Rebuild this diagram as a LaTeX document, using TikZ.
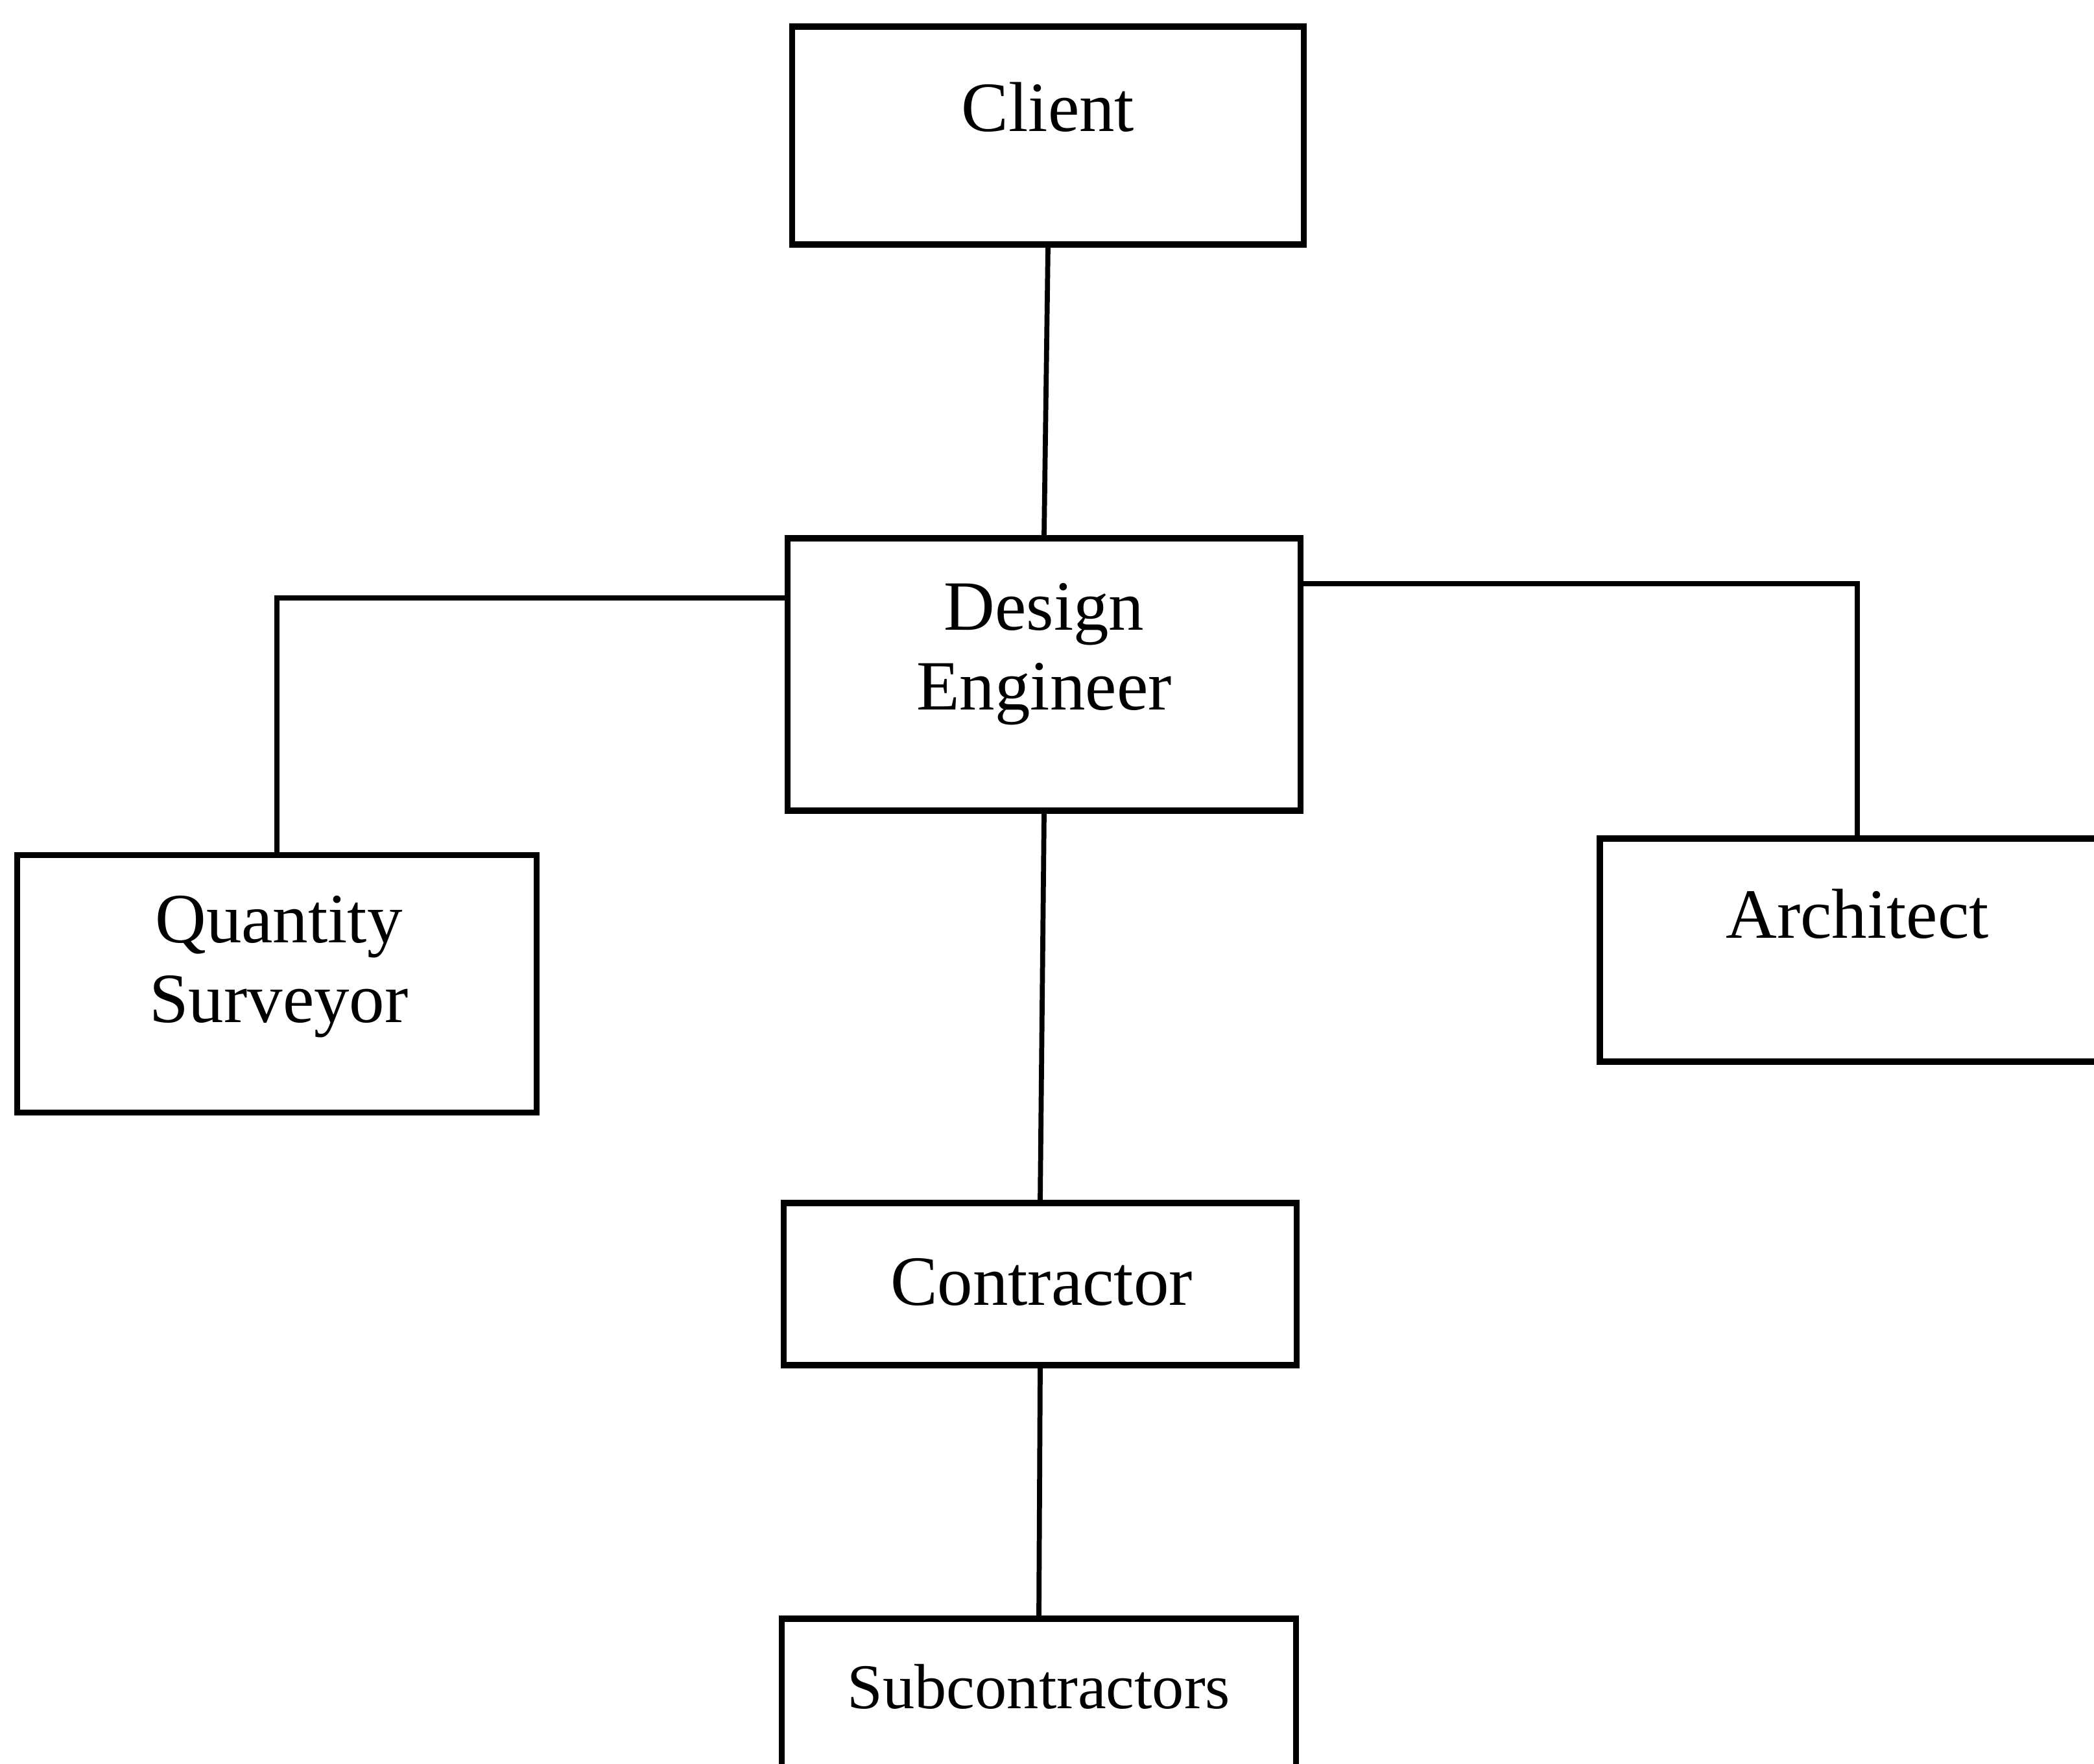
\documentclass[tikz,border=0pt]{standalone}
\usepackage{fontspec}
\setmainfont{Liberation Serif}
\usetikzlibrary{positioning}

\tikzset{
	box/.style={draw, rectangle, line width=2.8pt, inner sep=0pt},
	txt/.style={align=center, font=\fontsize{31}{35}\selectfont},
	link/.style={line width=2.2pt}
}

\begin{document}
\begin{tikzpicture}
	% Frame of the page:
	\useasboundingbox (0, 0) rectangle (32.29, -27.20);
	% Boxes:
	\node[box, minimum width=7.89cm, minimum height=3.36cm] (client) at (16.16, -2.09){};
	\node[box, minimum width=7.91cm, minimum height=4.20cm] (engineer) at (16.10, -10.40){};
	\node[box, minimum width=8.01cm, minimum height=3.97cm] (surveyor) at (4.27, -15.17){};
	\node[box, minimum width=7.94cm, minimum height=3.44cm] (architect) at (28.64, -14.65){};
	\node[box, minimum width=7.91cm, minimum height=2.50cm] (contractor) at (16.04, -19.80){};
	\node[box, minimum width=7.93cm, minimum height=3.36cm] (subs) at (16.02, -26.64){};
	% Texts:
	\node[txt] (clientTxt) at (16.16, -1.65){Client};
	\node[txt] (engineerTxt) at (16.10, -10.09){Design\\Engineer};
	\node[txt] (surveyorTxt) at (4.30, -14.91){Quantity\\Surveyor};
	\node[txt] (architectTxt) at (28.64, -14.09){Architect};
	\node[txt] (contractorTxt) at (16.06, -19.77){Contractor};
	\node[txt, font=\fontsize{28}{33}\selectfont] (subsTxt) at (16.02, -26.01){Subcontractors};
	% Lines:
	\draw[link] (client.south) -- (engineer.north);
	\draw[link] ([yshift=1.18cm]engineer.west) -| (surveyor.north);
	\draw[link] ([yshift=1.40cm]engineer.east) -| (architect.north);
	\draw[link] (engineer.south) -- (contractor.north);
	\draw[link] (contractor.south) -- (subs.north);
\end{tikzpicture}
\end{document}
